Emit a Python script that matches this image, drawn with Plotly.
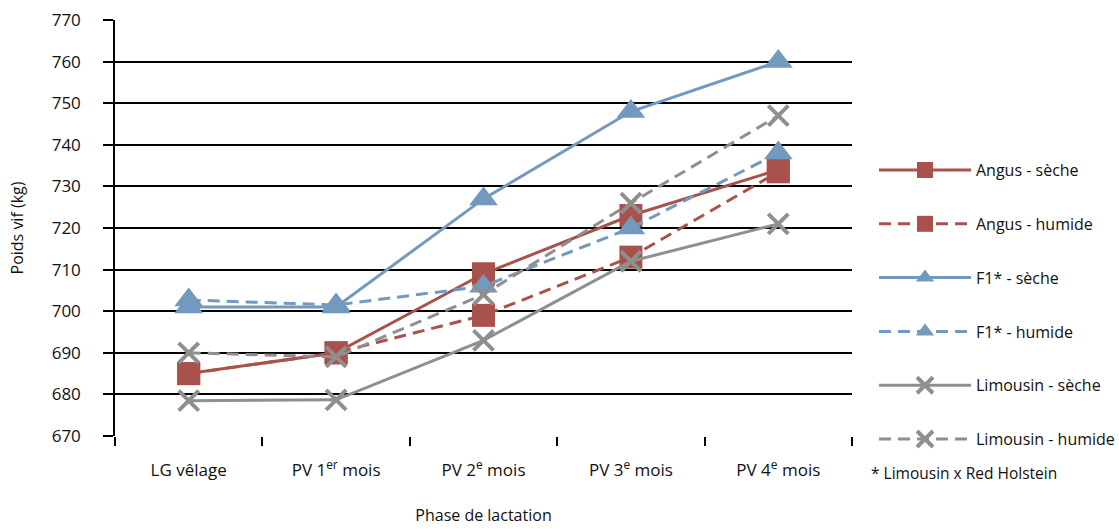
import plotly.graph_objects as go

categories = ["LG vêlage", "PV 1<sup>er</sup> mois", "PV 2<sup>e</sup> mois", "PV 3<sup>e</sup> mois", "PV 4<sup>e</sup> mois"]

angus_seche = [685, 690, 709, 723, 734]
angus_humide = [685, 690, 699, 713, 733.5]
f1_seche = [701, 701, 727, 748, 760]
f1_humide = [702.7, 701.5, 706, 720, 738]
limousin_seche = [678.5, 678.7, 693, 712, 721]
limousin_humide = [690, 689, 704, 726, 747]

RED = "#A8524B"
BLUE = "#7399BE"
GRAY = "#8F8F8F"
FONT = "Open Sans"
TXT = "#111111"

series = [
    ("Angus - sèche", angus_seche, RED, "solid", "square"),
    ("Angus - humide", angus_humide, RED, "12px,7px", "square"),
    ("F1* - sèche", f1_seche, BLUE, "solid", "triangle-up"),
    ("F1* - humide", f1_humide, BLUE, "12px,7px", "triangle-up"),
    ("Limousin - sèche", limousin_seche, GRAY, "solid", "x-thin"),
    ("Limousin - humide", limousin_humide, GRAY, "12px,7px", "x-thin"),
]

fig = go.Figure()
for i, (name, vals, col, dash, sym) in enumerate(series):
    if sym == "x-thin":
        marker = dict(symbol=sym, size=20, color=col, line=dict(color=col, width=4))
    elif sym == "square":
        marker = dict(symbol=sym, size=23, color=col, line=dict(width=0))
    else:
        marker = dict(symbol=sym, size=25, color=col, line=dict(width=0))
    fig.add_trace(go.Scatter(
        x=categories, y=vals, name=name, mode="lines+markers",
        line=dict(color=col, width=3, dash=dash),
        marker=marker, legendgroup=str(i),
    ))

fig.update_layout(
    width=1119, height=529,
    margin=dict(l=115, r=267, t=20, b=93, autoexpand=False),
    plot_bgcolor="white", paper_bgcolor="white",
    font=dict(family=FONT, size=16, color=TXT),
    showlegend=True,
    legend=dict(
        x=1.0 + 22 / 737, xanchor="left", y=0.68, yanchor="top",
        itemwidth=92, tracegroupgap=30,
        font=dict(family=FONT, size=16, color=TXT),
        bgcolor="rgba(0,0,0,0)",
    ),
    xaxis=dict(
        type="category", range=[-0.5, 4.5], showgrid=False,
        ticks="outside", tickson="boundaries", ticklen=9, tickwidth=1.5, tickcolor="black",
        ticklabelstandoff=22,
        showline=False, zeroline=False,
        title=dict(text="Phase de lactation", font=dict(size=16), standoff=29),
        tickfont=dict(size=17),
    ),
    yaxis=dict(
        range=[670, 770], dtick=10, showgrid=True, gridcolor="black", gridwidth=1.5,
        ticks="outside", ticklen=10, tickwidth=1.5, tickcolor="black",
        ticklabelstandoff=19,
        showline=True, linecolor="black", linewidth=1.5, zeroline=False,
        title=dict(text="Poids vif (kg)", font=dict(size=16), standoff=24),
        tickfont=dict(size=17),
    ),
)

fig.add_annotation(
    text="* Limousin x Red Holstein", xref="paper", yref="paper",
    x=1.0, y=-0.09, xanchor="left", xshift=17, yanchor="middle",
    showarrow=False, font=dict(family=FONT, size=15.5, color=TXT),
)

fig.write_html("out.html")
